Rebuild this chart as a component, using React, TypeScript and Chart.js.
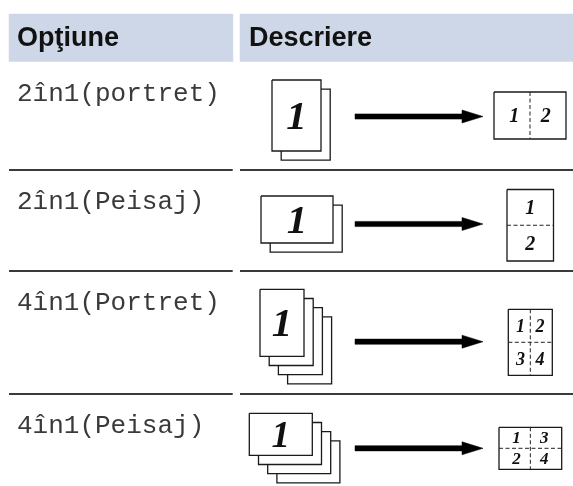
import React, { useEffect, useRef } from "react";
import { Chart, registerables } from "chart.js";

Chart.register(...registerables);

const W = 573;
const H = 486;

// ---- content data ----
const headerLabels = ["Opţiune", "Descriere"];
const optionLabels = ["2în1(portret)", "2în1(Peisaj)", "4în1(Portret)", "4în1(Peisaj)"];
const sheetCounts = [2, 2, 4, 4];
const resultNumbers = [
  ["1", "2"],
  ["1", "2"],
  ["1", "2", "3", "4"],
  ["1", "3", "2", "4"],
];
const resultCols = [2, 1, 2, 2];
const resultRows = [1, 2, 2, 2];

// ---- layout (data units of the hidden 0..573 / 0..486 scales) ----
const LAYOUT = {
  headerTop: 14,
  headerBottom: 61.5,
  leftCol: [9, 232.7],
  rightCol: [240, 573],
  separators: [170, 271, 394],
  rowTops: [62, 170, 271, 394],
  front: [
    [272, 80, 49, 71],
    [261, 196, 72, 47],
    [260, 289.3, 44, 67],
    [249.3, 413.3, 63, 42],
  ],
  step: 9.2,
  arrowY: [116.5, 224, 341.7, 448.3],
  arrowStart: 355,
  arrowHeadBase: 462,
  arrowTip: 483,
  result: [
    [494, 92, 72, 47],
    [507, 189.5, 46.5, 71.5],
    [508.3, 309.3, 44, 66],
    [499, 427.3, 62.7, 42],
  ],
  bigOneSize: [41, 41, 41, 37],
  numSize: [20, 20, 18, 17],
};

const HEADER_BG = "#cdd7e8";
const INK = "#1a1a1a";

type P = { x: number; y: number };

const rect = (x: number, y: number, w: number, h: number): P[] => [
  { x, y },
  { x: x + w, y },
  { x: x + w, y: y + h },
  { x, y: y + h },
  { x, y },
];

function buildDatasets() {
  const ds: any[] = [];
  const add = (data: P[], opts: any) =>
    ds.push({
      data,
      showLine: true,
      pointRadius: 0,
      pointHoverRadius: 0,
      tension: 0,
      borderJoinStyle: "miter",
      borderCapStyle: "butt",
      fill: false,
      clip: false,
      ...opts,
    });

  // header bands
  const [l0, l1] = LAYOUT.leftCol;
  const [r0, r1] = LAYOUT.rightCol;
  const hh = LAYOUT.headerBottom - LAYOUT.headerTop;
  add(rect(l0, LAYOUT.headerTop, l1 - l0, hh), {
    fill: "shape",
    backgroundColor: HEADER_BG,
    borderColor: HEADER_BG,
    borderWidth: 0.5,
  });
  add(rect(r0, LAYOUT.headerTop, r1 - r0, hh), {
    fill: "shape",
    backgroundColor: HEADER_BG,
    borderColor: HEADER_BG,
    borderWidth: 0.5,
  });

  // row separators
  LAYOUT.separators.forEach((y) => {
    add([{ x: l0, y }, { x: l1, y }], { borderColor: "#3a3a3a", borderWidth: 2 });
    add([{ x: r0, y }, { x: r1, y }], { borderColor: "#3a3a3a", borderWidth: 2 });
  });

  optionLabels.forEach((_, r) => {
    // stacked source sheets
    const [fx, fy, fw, fh] = LAYOUT.front[r];
    for (let k = sheetCounts[r] - 1; k >= 0; k--) {
      add(rect(fx + k * LAYOUT.step, fy + k * LAYOUT.step, fw, fh), {
        fill: "shape",
        backgroundColor: "#ffffff",
        borderColor: INK,
        borderWidth: 1.3,
      });
    }
    // arrow
    const ay = LAYOUT.arrowY[r];
    add(rect(LAYOUT.arrowStart, ay - 2.6, LAYOUT.arrowHeadBase - LAYOUT.arrowStart + 1, 5.2), {
      fill: "shape",
      backgroundColor: "#000000",
      borderColor: "#000000",
      borderWidth: 0.5,
    });
    add(
      [
        { x: LAYOUT.arrowHeadBase, y: ay - 6.5 },
        { x: LAYOUT.arrowTip, y: ay },
        { x: LAYOUT.arrowHeadBase, y: ay + 6.5 },
        { x: LAYOUT.arrowHeadBase, y: ay - 6.5 },
      ],
      { fill: "shape", backgroundColor: "#000000", borderColor: "#000000", borderWidth: 0.5 }
    );
    // result sheet
    const [rx, ry, rw, rh] = LAYOUT.result[r];
    add(rect(rx, ry, rw, rh), {
      fill: "shape",
      backgroundColor: "#ffffff",
      borderColor: INK,
      borderWidth: 1.3,
    });
    if (resultCols[r] === 2) {
      add([{ x: rx + rw / 2, y: ry }, { x: rx + rw / 2, y: ry + rh }], {
        borderColor: "#222222",
        borderWidth: 1,
        borderDash: [4, 2.5],
      });
    }
    if (resultRows[r] === 2) {
      add([{ x: rx, y: ry + rh / 2 }, { x: rx + rw, y: ry + rh / 2 }], {
        borderColor: "#222222",
        borderWidth: 1,
        borderDash: [4, 2.5],
      });
    }
  });

  // draw in push order (later ones on top)
  ds.forEach((d, i) => (d.order = -i));
  return ds;
}

const textPlugin = {
  id: "tableText",
  afterDatasetsDraw(chart: any) {
    const { ctx } = chart;
    const sx = chart.scales.x;
    const sy = chart.scales.y;
    const px = (v: number) => sx.getPixelForValue(v);
    const py = (v: number) => sy.getPixelForValue(v);
    ctx.save();
    ctx.textBaseline = "alphabetic";
    ctx.textAlign = "left";
    ctx.fillStyle = "#111111";
    ctx.font = 'bold 27px "Liberation Sans", Arial, sans-serif';
    ctx.fillText(headerLabels[0], px(LAYOUT.leftCol[0] + 8), py(46));
    ctx.fillText(headerLabels[1], px(LAYOUT.rightCol[0] + 9), py(46));

    ctx.fillStyle = "#3a3a3a";
    ctx.font = '26px "Liberation Mono", "Courier New", monospace';
    optionLabels.forEach((t, i) => {
      ctx.fillText(t, px(LAYOUT.leftCol[0] + 8), py(LAYOUT.rowTops[i] + 38.5));
    });

    ctx.fillStyle = "#111111";
    ctx.textAlign = "center";
    optionLabels.forEach((_, r) => {
      const [fx, fy, fw, fh] = LAYOUT.front[r];
      const s = LAYOUT.bigOneSize[r];
      ctx.font = `italic bold ${s}px "Liberation Serif", "Times New Roman", serif`;
      ctx.fillText("1", px(fx + fw / 2), py(fy + fh / 2 + s * 0.33));

      const [rx, ry, rw, rh] = LAYOUT.result[r];
      const ns = LAYOUT.numSize[r];
      ctx.font = `italic bold ${ns}px "Liberation Serif", "Times New Roman", serif`;
      const cols = resultCols[r];
      const rows = resultRows[r];
      resultNumbers[r].forEach((t, k) => {
        const c = k % cols;
        const rr = Math.floor(k / cols);
        const cx = rx + (rw / cols) * (c + 0.5);
        const cy = ry + (rh / rows) * (rr + 0.5);
        const mx = rx + rw / 2;
        const ix = cols === 2 ? mx + (cx - mx) * 0.88 : cx;
        ctx.fillText(t, px(ix), py(cy + ns * 0.33));
      });
    });
    ctx.restore();
  },
};

export default function App() {
  const ref = useRef<HTMLCanvasElement | null>(null);
  useEffect(() => {
    if (!ref.current) return;
    const chart = new Chart(ref.current, {
      type: "scatter",
      data: { datasets: buildDatasets() },
      options: {
        animation: false,
        responsive: false,
        maintainAspectRatio: false,
        events: [],
        layout: { padding: 0 },
        scales: {
          x: { type: "linear", min: 0, max: W, display: false },
          y: { type: "linear", min: 0, max: H, reverse: true, display: false },
        },
        plugins: {
          legend: { display: false },
          tooltip: { enabled: false },
        },
      },
      plugins: [textPlugin],
    });
    return () => chart.destroy();
  }, []);
  return (
    <div style={{ position: "absolute", left: 0, top: 0, width: W, height: H, background: "#fff" }}>
      <canvas ref={ref} width={W} height={H} style={{ display: "block" }} />
    </div>
  );
}
